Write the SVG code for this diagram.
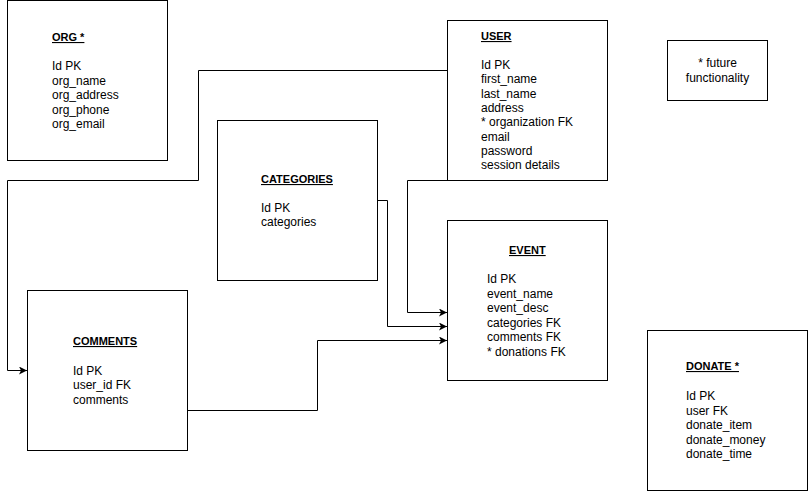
<svg xmlns="http://www.w3.org/2000/svg" width="808" height="491" viewBox="0 0 808 491">
<defs>
<style>
.box{fill:#fff;stroke:#000;stroke-width:1}
.t{font-family:"Liberation Sans",Arial,sans-serif;font-size:12px;fill:#000}
.h{font-family:"Liberation Sans",Arial,sans-serif;font-size:11px;font-weight:bold;fill:#000;text-decoration:underline}
.c{fill:none;stroke:#000;stroke-width:1}
</style>
<marker id="arr" markerUnits="userSpaceOnUse" markerWidth="10" markerHeight="10" refX="8" refY="4" orient="auto">
<path d="M0,0 L8,4 L0,8 L2,4 Z" fill="#000"/>
</marker>
</defs>
<rect width="808" height="491" fill="#fff"/>
<g id="connectors">
<path class="c" d="M447.5,70.5 H198.5 V180.5 H7.5 V370.5 H27" marker-end="url(#arr)"/>
<path class="c" d="M447.5,180.5 H407.5 V312.5 H447" marker-end="url(#arr)"/>
<path class="c" d="M377.5,200.5 H387.5 V326.5 H447" marker-end="url(#arr)"/>
<path class="c" d="M187.5,410.5 H317.5 V340.5 H447" marker-end="url(#arr)"/>
</g>
<g id="org">
<rect class="box" x="7.5" y="0.5" width="160" height="160"/>
<text class="h" x="52" y="41">ORG *</text>
<text class="t" x="52" y="70">Id PK</text>
<text class="t" x="52" y="85">org_name</text>
<text class="t" x="52" y="99">org_address</text>
<text class="t" x="52" y="114">org_phone</text>
<text class="t" x="52" y="128">org_email</text>
</g>
<g id="user">
<rect class="box" x="447.5" y="20.5" width="160" height="160"/>
<text class="h" x="481" y="40">USER</text>
<text class="t" x="481" y="69">Id PK</text>
<text class="t" x="481" y="83">first_name</text>
<text class="t" x="481" y="98">last_name</text>
<text class="t" x="481" y="112">address</text>
<text class="t" x="481" y="126">* organization FK</text>
<text class="t" x="481" y="141">email</text>
<text class="t" x="481" y="155">password</text>
<text class="t" x="481" y="169">session details</text>
</g>
<g id="future">
<rect class="box" x="667.5" y="40.5" width="100" height="60"/>
<text class="t" x="717.5" y="67" text-anchor="middle">* future</text>
<text class="t" x="717.5" y="82" text-anchor="middle">functionality</text>
</g>
<g id="categories">
<rect class="box" x="217.5" y="120.5" width="160" height="160"/>
<text class="h" x="261" y="183">CATEGORIES</text>
<text class="t" x="261" y="212">Id PK</text>
<text class="t" x="261" y="226">categories</text>
</g>
<g id="event">
<rect class="box" x="447.5" y="220.5" width="160" height="160"/>
<text class="h" x="509" y="254">EVENT</text>
<text class="t" x="487" y="283">Id PK</text>
<text class="t" x="487" y="298">event_name</text>
<text class="t" x="487" y="312">event_desc</text>
<text class="t" x="487" y="327">categories FK</text>
<text class="t" x="487" y="341">comments FK</text>
<text class="t" x="487" y="356">* donations FK</text>
</g>
<g id="comments">
<rect class="box" x="27.5" y="290.5" width="160" height="160"/>
<text class="h" x="73" y="345">COMMENTS</text>
<text class="t" x="73" y="375">Id PK</text>
<text class="t" x="73" y="389">user_id FK</text>
<text class="t" x="73" y="404">comments</text>
</g>
<g id="donate">
<rect class="box" x="647.5" y="330.5" width="160" height="160"/>
<text class="h" x="686" y="370">DONATE *</text>
<text class="t" x="686" y="400">Id PK</text>
<text class="t" x="686" y="415">user FK</text>
<text class="t" x="686" y="429">donate_item</text>
<text class="t" x="686" y="444">donate_money</text>
<text class="t" x="686" y="458">donate_time</text>
</g>
</svg>
